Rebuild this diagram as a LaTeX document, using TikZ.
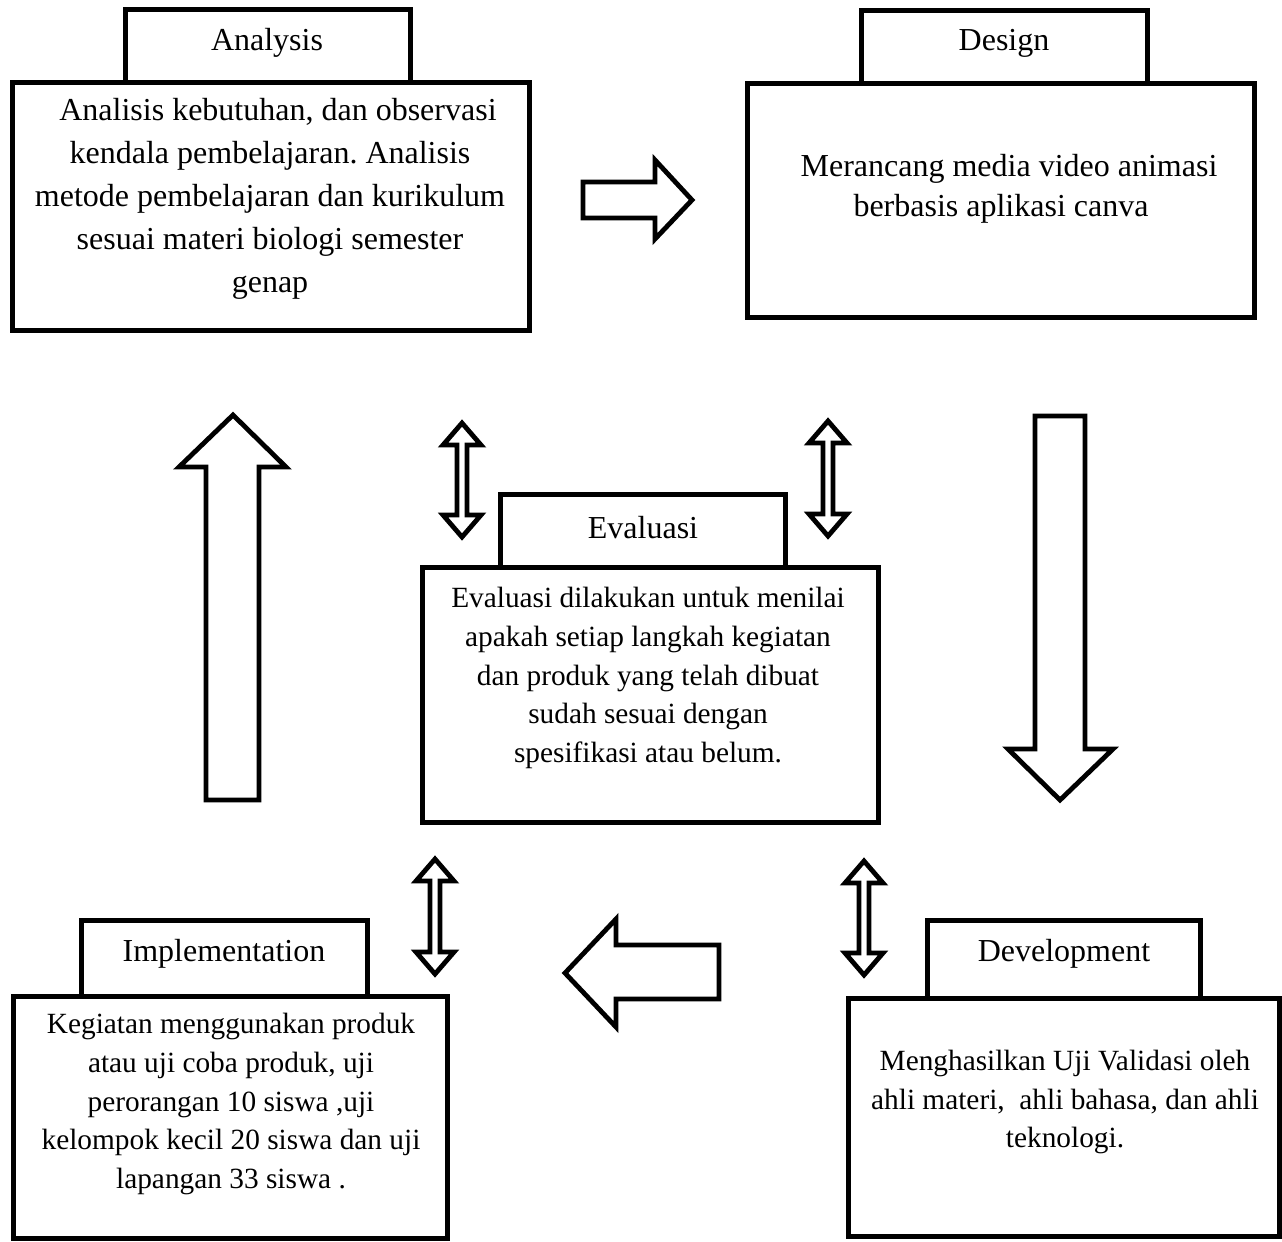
\documentclass[tikz,border=0pt]{standalone}
\usepackage{fontspec}
\setmainfont{Liberation Serif}
\frenchspacing
\newcommand\mybox[5]{\node[boxst, minimum width={(#4-#2)*0.375pt}, minimum height={(#5-#3)*0.375pt}] (#1) at ({(#2+#4)/2},{(#3+#5)/2}) {};}
\newcommand\dblarr[4]{% name, cx, ytop, ybot
  \path[arrst] (#2,#3) coordinate (#1) -- ({#2+19},{#3+22}) -- ({#2+5},{#3+22}) -- ({#2+5},{#4-22}) -- ({#2+19},{#4-22}) -- (#2,#4) -- ({#2-19},{#4-22}) -- ({#2-5},{#4-22}) -- ({#2-5},{#3+22}) -- ({#2-19},{#3+22}) -- cycle;}
\begin{document}
\begin{tikzpicture}[x=0.375pt,y=-0.375pt,
  boxst/.style={draw, line width=1.875pt, fill=white, inner sep=0pt, outer sep=0pt},
  arrst/.style={draw, line width=1.8pt, fill=white, line join=miter, miter limit=10},
  tabtxt/.style={inner sep=0pt, font=\fontsize{12}{14}\selectfont},
  bigtxt/.style={inner sep=0pt, align=center, font=\fontsize{12}{16.1}\selectfont},
  smalltxt/.style={inner sep=0pt, align=center, font=\fontsize{11}{14.5}\selectfont}]
\useasboundingbox (0,0) rectangle (1282,1241);
% Analysis
\mybox{anaTab}{125}{9}{410}{82}
\mybox{anaBox}{12}{82}{529}{330}
\node[tabtxt] (anaLbl) at (267,43) {Analysis};
\node[bigtxt] (anaTxt) at (270,199) {\hspace*{0.5em}Analisis kebutuhan, dan observasi\\kendala pembelajaran. Analisis\\metode pembelajaran dan kurikulum\\sesuai materi biologi semester\\genap};
% Design
\mybox{desTab}{861}{10}{1147}{83}
\mybox{desBox}{747}{83}{1254}{317}
\node[tabtxt] (desLbl) at (1004,43) {Design};
\node[bigtxt, font=\fontsize{12}{15}\selectfont] (desTxt) at (1001,189) {\hspace*{0.5em}Merancang media video animasi\\berbasis aplikasi canva};
% Evaluasi
\mybox{evaTab}{500}{494}{785}{567}
\mybox{evaBox}{422}{567}{878}{822}
\node[tabtxt] (evaLbl) at (643,528) {Evaluasi};
\node[smalltxt] (evaTxt) at (648,678) {Evaluasi dilakukan untuk menilai\\apakah setiap langkah kegiatan\\dan produk yang telah dibuat\\sudah sesuai dengan\\spesifikasi atau belum.};
% Implementation
\mybox{impTab}{81}{920}{367}{996}
\mybox{impBox}{13}{996}{447}{1238}
\node[tabtxt] (impLbl) at (224,954) {Implementation};
\node[smalltxt] (impTxt) at (231,1104) {Kegiatan menggunakan produk\\atau uji coba produk, uji\\perorangan 10 siswa ,uji\\kelompok kecil 20 siswa dan uji\\lapangan 33 siswa .};
% Development
\mybox{devTab}{927}{920}{1200}{998}
\mybox{devBox}{848}{998}{1279}{1236}
\node[tabtxt] (devLbl) at (1064,954) {Development};
\node[smalltxt] (devTxt) at (1065,1102) {Menghasilkan Uji Validasi oleh\\ahli materi,\ \ ahli bahasa, dan ahli\\teknologi.};
% big block arrows
\path[arrst] (206,800) coordinate (upA) -- (206,467) -- (179,467) -- (233,415) -- (286,467) -- (259,467) -- (259,800) -- cycle;
\path[arrst] (1035,416) coordinate (downA) -- (1035,749) -- (1008,749) -- (1060,800) -- (1113,749) -- (1085,749) -- (1085,416) -- cycle;
\path[arrst] (583,182) coordinate (rightA) -- (655,182) -- (655,160) -- (692,200) -- (655,239) -- (655,218) -- (583,218) -- cycle;
\path[arrst] (719,945) coordinate (leftA) -- (616,945) -- (616,919) -- (565,973) -- (616,1027) -- (616,999) -- (719,999) -- cycle;
% double arrows
\dblarr{dUL}{462}{423}{537}
\dblarr{dUR}{828}{421}{536}
\dblarr{dLL}{435}{859}{974}
\dblarr{dLR}{864}{861}{975}
\end{tikzpicture}
\end{document}
